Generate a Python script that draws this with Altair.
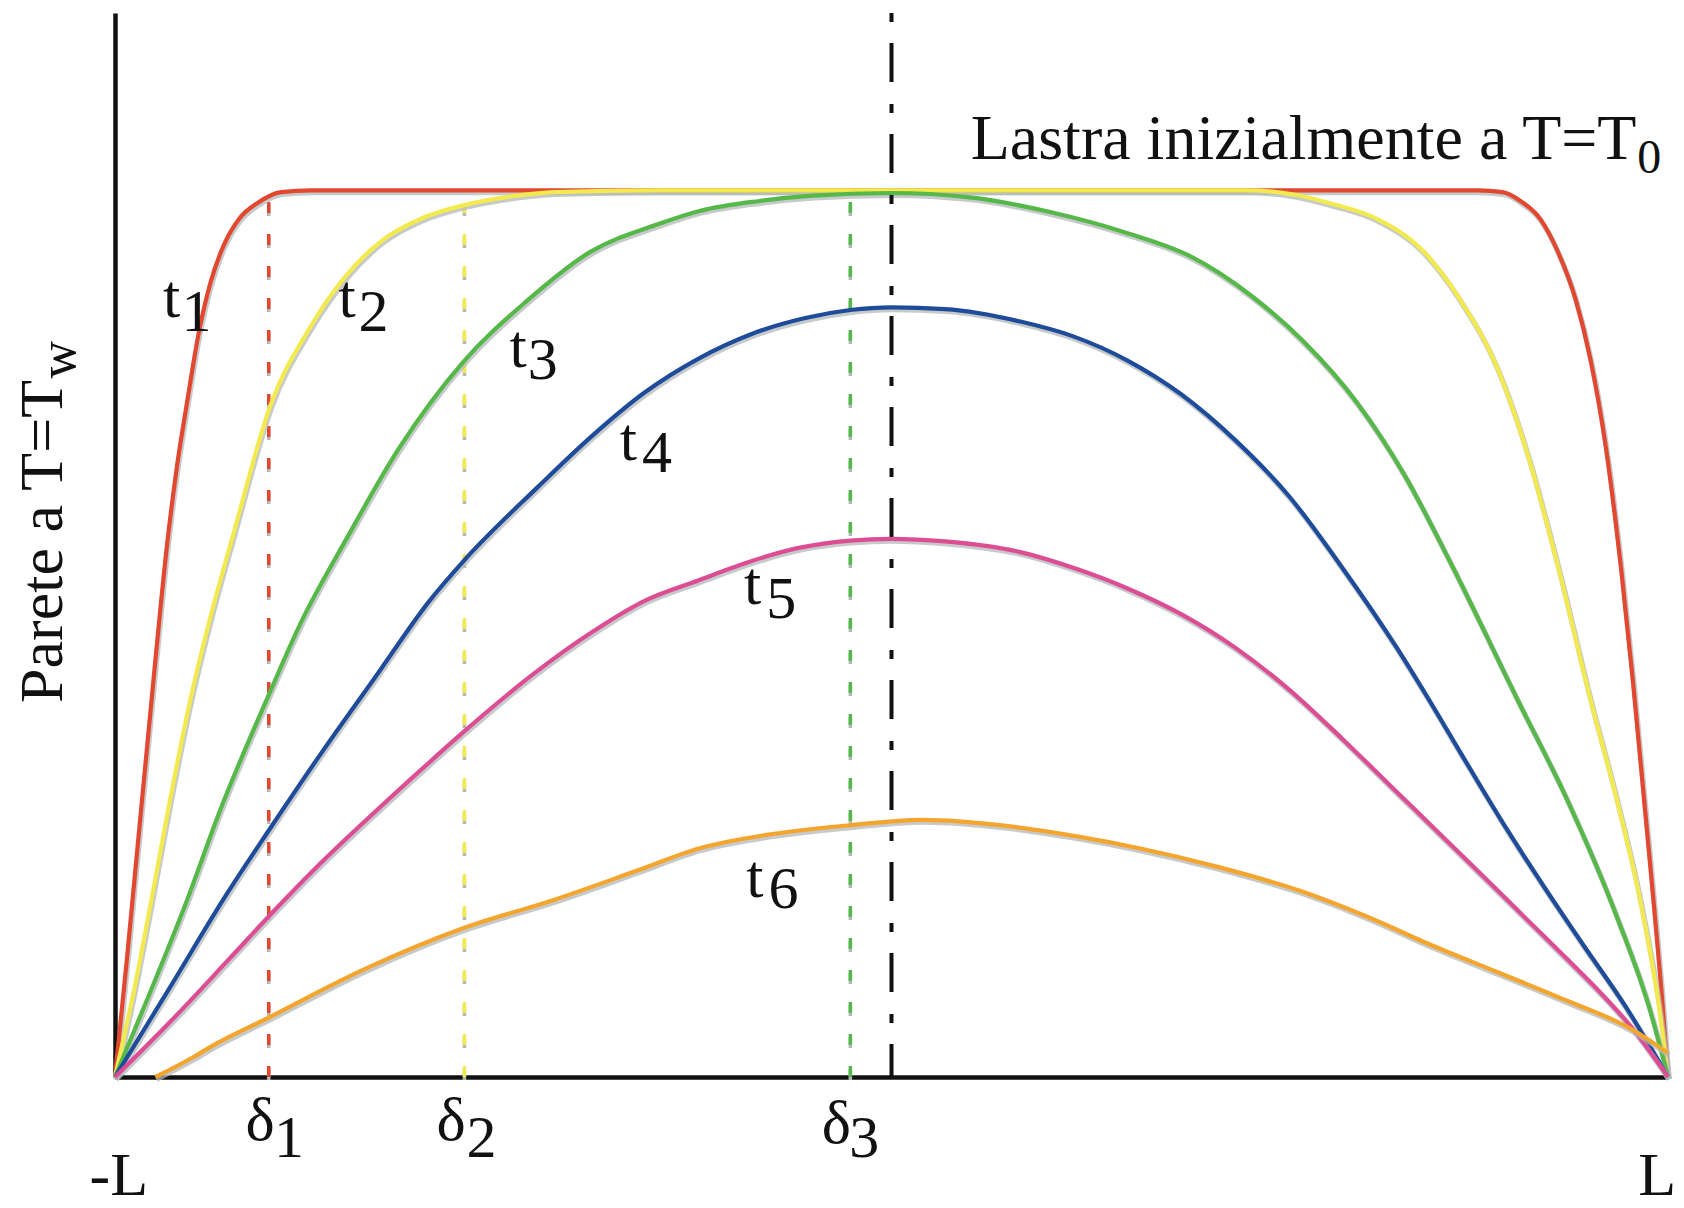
import altair as alt
import pandas as pd

# ---------------- data (x in units of L, y = normalised temperature) -------------
curve_names = ["t1", "t2", "t3", "t4", "t5", "t6"]
curve_colors = ["#E2472F", "#F3EA4F", "#55B848", "#1E4C9A", "#DD4D94", "#F4A52E"]

t1_x = [-1.0, -0.985, -0.972, -0.96, -0.948, -0.933, -0.92, -0.907, -0.892, -0.877, -0.86, -0.84,
        -0.816, -0.786, -0.747, -0.5, 0.0, 0.5, 0.755, 0.787, 0.81, 0.836, 0.857, 0.881, 0.9, 0.92,
        0.94, 0.955, 0.977, 0.994, 1.0]
t1_y = [0.0, 0.13, 0.25, 0.36, 0.47, 0.60, 0.69, 0.762, 0.84, 0.896, 0.938, 0.968,
        0.986, 0.998, 1.0, 1.0, 1.0, 1.0, 1.0, 0.998, 0.988, 0.967, 0.933, 0.877, 0.81, 0.71,
        0.57, 0.445, 0.24, 0.07, 0.0]

t2_x = [-1.0, -0.975, -0.953, -0.929, -0.901, -0.877, -0.847, -0.80, -0.749, -0.702, -0.655, -0.606,
        -0.552, -0.483, -0.434, -0.3, 0.0, 0.3, 0.457, 0.52, 0.562, 0.627, 0.683, 0.732, 0.78, 0.82,
        0.86, 0.90, 0.934, 0.964, 0.990, 1.0]
t2_y = [0.0, 0.10, 0.20, 0.313, 0.433, 0.519, 0.614, 0.757, 0.845, 0.904, 0.944, 0.968,
        0.983, 0.994, 0.998, 1.0, 1.0, 1.0, 1.0, 0.995, 0.986, 0.967, 0.933, 0.877, 0.80, 0.70,
        0.57, 0.426, 0.313, 0.20, 0.07, 0.0]

t3_x = [-1.0, -0.955, -0.907, -0.865, -0.80, -0.762, -0.70, -0.635, -0.552, -0.47, -0.389, -0.30,
        -0.246, -0.17, -0.101, 0.0, 0.101, 0.207, 0.303, 0.384, 0.465, 0.53, 0.60, 0.66, 0.72,
        0.806, 0.870, 0.934, 0.977, 1.0]
t3_y = [0.0, 0.095, 0.20, 0.30, 0.435, 0.51, 0.61, 0.708, 0.806, 0.875, 0.93, 0.962,
        0.977, 0.988, 0.994, 0.997, 0.992, 0.975, 0.952, 0.926, 0.88, 0.83, 0.76, 0.68, 0.58,
        0.426, 0.313, 0.181, 0.075, 0.0]

t4_x = [-1.0, -0.93, -0.857, -0.802, -0.733, -0.664, -0.595, -0.55, -0.456, -0.387, -0.318, -0.249,
        -0.18, -0.111, -0.053, 0.0, 0.069, 0.166, 0.235, 0.304, 0.373, 0.443, 0.512, 0.58, 0.65,
        0.689, 0.74, 0.792, 0.84, 0.89, 0.945, 1.0]
t4_y = [0.0, 0.10, 0.205, 0.278, 0.367, 0.452, 0.537, 0.583, 0.665, 0.722, 0.772, 0.810,
        0.838, 0.856, 0.865, 0.868, 0.866, 0.852, 0.835, 0.808, 0.770, 0.718, 0.655, 0.575, 0.485,
        0.43, 0.355, 0.28, 0.215, 0.15, 0.08, 0.0]

t5_x = [-1.0, -0.927, -0.852, -0.80, -0.733, -0.664, -0.595, -0.55, -0.456, -0.387, -0.318, -0.249,
        -0.18, -0.118, -0.053, 0.0, 0.069, 0.166, 0.235, 0.304, 0.373, 0.443, 0.512, 0.581, 0.65,
        0.697, 0.76, 0.826, 0.87, 0.912, 0.955, 1.0]
t5_y = [0.0, 0.064, 0.134, 0.183, 0.243, 0.300, 0.355, 0.390, 0.458, 0.501, 0.537, 0.560,
        0.582, 0.597, 0.605, 0.607, 0.604, 0.592, 0.574, 0.551, 0.522, 0.484, 0.437, 0.381, 0.322,
        0.282, 0.228, 0.171, 0.133, 0.096, 0.054, 0.0]

t6_x = [-0.948, -0.90, -0.877, -0.802, -0.68, -0.551, -0.434, -0.33, -0.247, -0.161, -0.053, 0.04,
        0.15, 0.235, 0.319, 0.42, 0.526, 0.612, 0.697, 0.784, 0.870, 0.955, 1.0]
t6_y = [0.0, 0.022, 0.034, 0.067, 0.121, 0.168, 0.20, 0.232, 0.258, 0.273, 0.284, 0.290,
        0.283, 0.272, 0.258, 0.237, 0.210, 0.181, 0.148, 0.117, 0.086, 0.053, 0.027]

# penetration depths delta_1..3 (dashed markers) and their top value
delta_curve = ["t1", "t2", "t3"]
delta_x = [-0.802, -0.550, -0.053]
delta_top = [0.99, 0.985, 0.994]

# text annotations
main_text = ["t", "t", "t", "t", "t", "t", "δ", "δ", "δ", "-L", "L"]
main_x = [-0.927, -0.701, -0.481, -0.339, -0.179, -0.176, -0.813, -0.567, -0.071, -0.995, 0.986]
main_y = [0.857, 0.857, 0.801, 0.696, 0.533, 0.203, -0.071, -0.071, -0.074, -0.133, -0.133]
sub_text = ["1", "2", "3", "4", "5", "6", "1", "2", "3"]
sub_x = [-0.895, -0.667, -0.449, -0.302, -0.142, -0.139, -0.776, -0.528, -0.035]
sub_y = [0.841, 0.841, 0.787, 0.682, 0.518, 0.191, -0.090, -0.090, -0.090]

title_text = ["Lastra inizialmente a T=T"]
title_x = [0.102]
title_y = [1.035]
title_sub = ["0"]
title_sub_x = [0.976]
title_sub_y = [1.020]

ylab_text = ["Parete a T=T"]
ylab_x = [-1.068]
ylab_y = [0.604]
ylab_sub = ["w"]
ylab_sub_x = [-1.052]
ylab_sub_y = [0.809]

# ---------------- build tables -------------
series = {"t1": (t1_x, t1_y), "t2": (t2_x, t2_y), "t3": (t3_x, t3_y),
          "t4": (t4_x, t4_y), "t5": (t5_x, t5_y), "t6": (t6_x, t6_y)}
rows = []
for k, name in enumerate(curve_names):
    xs, ys = series[name]
    for i, (a, b) in enumerate(zip(xs, ys)):
        rows.append({"curve": name, "rank": k, "x": a, "y": b, "ord": i})
df = pd.DataFrame(rows)

ddf = pd.DataFrame({"curve": delta_curve, "x": delta_x, "y0": [0.0] * 3, "y1": delta_top})
cdf = pd.DataFrame({"x": [0.0], "y0": [1.2], "y1": [0.0]})
mdf = pd.DataFrame({"t": main_text, "x": main_x, "y": main_y})
sdf = pd.DataFrame({"t": sub_text, "x": sub_x, "y": sub_y})
tdf = pd.DataFrame({"t": title_text, "x": title_x, "y": title_y})
tsdf = pd.DataFrame({"t": title_sub, "x": title_sub_x, "y": title_sub_y})
ydf = pd.DataFrame({"t": ylab_text, "x": ylab_x, "y": ylab_y})
ysdf = pd.DataFrame({"t": ylab_sub, "x": ylab_sub_x, "y": ylab_sub_y})

xs_ = alt.Scale(domain=[-1, 1], nice=False, zero=False)
ys_ = alt.Scale(domain=[0, 1.2], nice=False, zero=False)
ax = alt.Axis(title=None, labels=False, ticks=False, grid=False,
              domainColor="#111111", domainWidth=4.5)
col = alt.Color("curve:N", scale=alt.Scale(domain=curve_names, range=curve_colors), legend=None)

X = alt.X("x:Q", scale=xs_, axis=ax)
Y = alt.Y("y:Q", scale=ys_, axis=ax)

FONT = "Liberation Serif"

layers = []
for name in curve_names:
    sub = df[df.curve == name]
    shadow = alt.Chart(sub).mark_line(strokeWidth=5.5, color="#b3b8b8", opacity=0.75,
                                      interpolate="monotone",
                                      xOffset=1, yOffset=2.2).encode(x=X, y=Y, order="ord:Q")
    line = alt.Chart(sub).mark_line(strokeWidth=4.2, interpolate="monotone").encode(
        x=X, y=Y, color=col, order="ord:Q")
    layers += [shadow, line]

dash_shadow = alt.Chart(ddf).mark_rule(strokeWidth=3.5, strokeDash=[11, 21], color="#b3b8b8",
                                      yOffset=3).encode(
    x=alt.X("x:Q", scale=xs_, axis=ax), y=alt.Y("y0:Q", scale=ys_, axis=ax), y2="y1:Q")
dash_rules = alt.Chart(ddf).mark_rule(strokeWidth=3.5, strokeDash=[11, 21]).encode(
    x=alt.X("x:Q", scale=xs_, axis=ax), y=alt.Y("y0:Q", scale=ys_, axis=ax), y2="y1:Q", color=col)
center_rule = alt.Chart(cdf).mark_rule(strokeWidth=4, strokeDash=[9, 21, 39, 22], color="#111111").encode(
    x=alt.X("x:Q", scale=xs_, axis=ax), y=alt.Y("y0:Q", scale=ys_, axis=ax), y2="y1:Q")

main_lbl = alt.Chart(mdf).mark_text(font=FONT, fontSize=62, align="center", baseline="alphabetic",
                                    color="#111111").encode(x=X, y=Y, text="t:N")
sub_lbl = alt.Chart(sdf).mark_text(font=FONT, fontSize=60, align="center", baseline="alphabetic",
                                   color="#111111").encode(x=X, y=Y, text="t:N")
title_lbl = alt.Chart(tdf).mark_text(font=FONT, fontSize=64, align="left", baseline="alphabetic",
                                     color="#111111").encode(x=X, y=Y, text="t:N")
title_sub_lbl = alt.Chart(tsdf).mark_text(font=FONT, fontSize=48, align="center", baseline="alphabetic",
                                          color="#111111").encode(x=X, y=Y, text="t:N")
ylab_lbl = alt.Chart(ydf).mark_text(font=FONT, fontSize=62, align="center", baseline="alphabetic",
                                    angle=270, color="#111111").encode(x=X, y=Y, text="t:N")
ylab_sub_lbl = alt.Chart(ysdf).mark_text(font=FONT, fontSize=52, align="center", baseline="alphabetic",
                                         angle=270, color="#111111").encode(x=X, y=Y, text="t:N")

chart = alt.layer(
    dash_shadow, dash_rules, *layers, center_rule,
    main_lbl, sub_lbl, title_lbl, title_sub_lbl, ylab_lbl, ylab_sub_lbl
).properties(
    width=1553, height=1064,
    autosize=alt.AutoSizeParams(type="none"),
    padding={"left": 107, "top": 5, "right": 8, "bottom": 123},
    background="white",
).configure_view(stroke=None)

chart.save("out.html", embed_options={"renderer": "svg", "actions": False})
